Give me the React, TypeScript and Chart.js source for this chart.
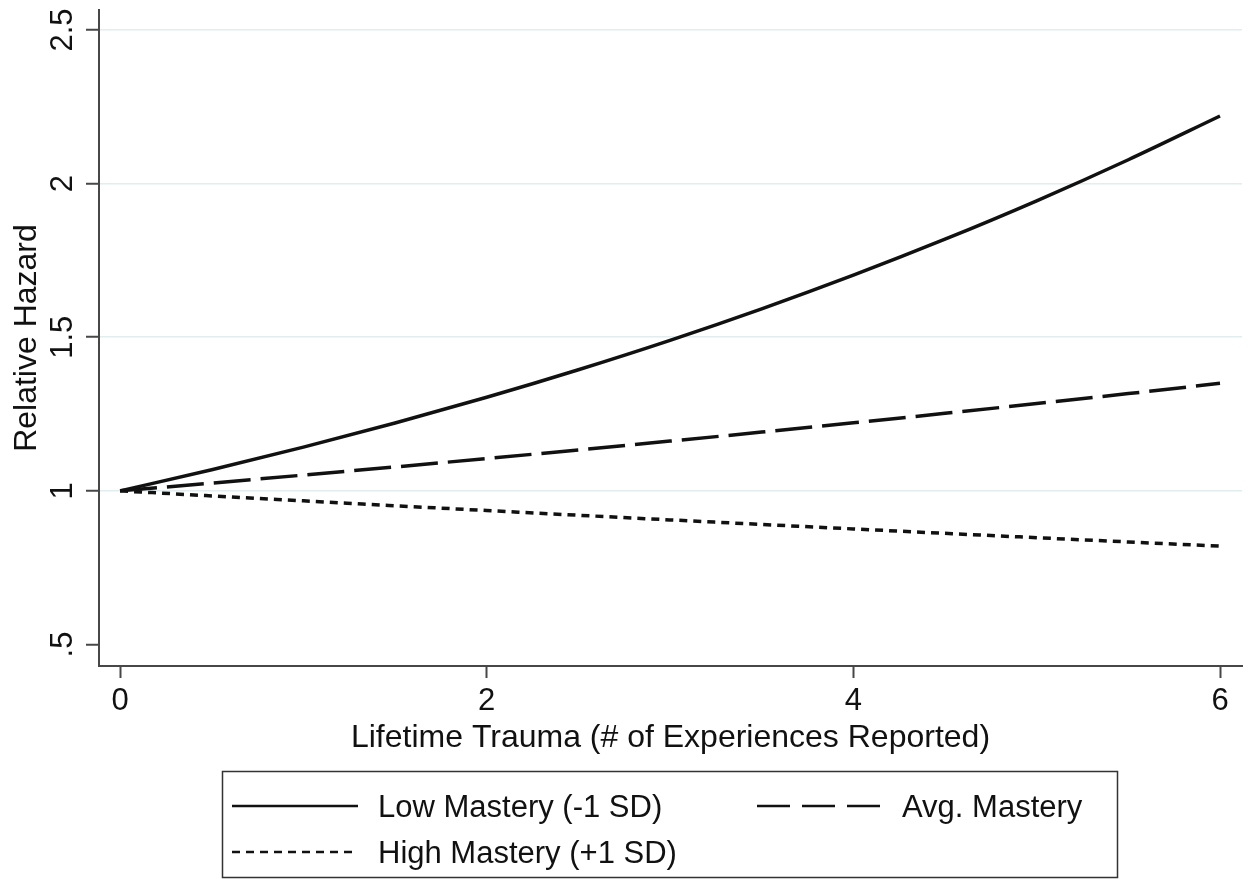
import React, { useEffect, useRef } from 'react';
import { Chart, registerables } from 'chart.js';

Chart.register(...registerables);

const xValues = [0, 0.5, 1, 1.5, 2, 2.5, 3, 3.5, 4, 4.5, 5, 5.5, 6];
const lowMastery = [1.0, 1.0687, 1.1422, 1.2207, 1.3046, 1.3943, 1.49, 1.5925, 1.702, 1.819, 1.944, 2.0777, 2.22];
const avgMastery = [1.0, 1.0253, 1.0513, 1.0779, 1.1052, 1.1331, 1.1619, 1.1912, 1.2214, 1.2523, 1.284, 1.3165, 1.35];
const highMastery = [1.0, 0.9836, 0.9675, 0.9516, 0.936, 0.9206, 0.9055, 0.8907, 0.8761, 0.8617, 0.8476, 0.8337, 0.82];

const xTicks = [0, 2, 4, 6];
const xTickLabels = ['0', '2', '4', '6'];
const yTicks = [0.5, 1, 1.5, 2, 2.5];
const yTickLabels = ['.5', '1', '1.5', '2', '2.5'];

const xTitle = 'Lifetime Trauma (# of Experiences Reported)';
const yTitle = 'Relative Hazard';
const seriesLabels = ['Low Mastery (-1 SD)', 'Avg. Mastery', 'High Mastery (+1 SD)'];

const FONT = '"Liberation Sans", Arial, Helvetica, sans-serif';
const INK = '#111111';
const AXIS = '#474747';

const textPlugin = {
  id: 'textPlugin',
  afterDraw(chart: any) {
    const ctx = chart.ctx as CanvasRenderingContext2D;
    const xs = chart.scales.x;
    const ys = chart.scales.y;
    const ca = chart.chartArea;
    ctx.save();
    ctx.fillStyle = INK;
    ctx.font = `31px ${FONT}`;

    // y tick labels, rotated
    yTicks.forEach((v, i) => {
      const py = ys.getPixelForValue(v);
      ctx.save();
      ctx.translate(72, py);
      ctx.rotate(-Math.PI / 2);
      ctx.textAlign = 'center';
      ctx.textBaseline = 'alphabetic';
      ctx.fillText(yTickLabels[i], 0, 0);
      ctx.restore();
    });

    // x tick labels
    xTicks.forEach((v, i) => {
      const px = xs.getPixelForValue(v);
      ctx.textAlign = 'center';
      ctx.textBaseline = 'alphabetic';
      ctx.fillText(xTickLabels[i], px, 710);
    });

    // axis titles
    ctx.font = `32px ${FONT}`;
    ctx.textAlign = 'center';
    ctx.fillText(xTitle, (ca.left + ca.right) / 2, 747);

    ctx.save();
    ctx.translate(36, (ca.top + ca.bottom) / 2);
    ctx.rotate(-Math.PI / 2);
    ctx.textAlign = 'center';
    ctx.textBaseline = 'alphabetic';
    ctx.fillText(yTitle, 0, 0);
    ctx.restore();

    // legend box
    ctx.strokeStyle = '#333333';
    ctx.lineWidth = 1.5;
    ctx.strokeRect(222.5, 771.5, 895, 106);

    const drawSample = (x0: number, x1: number, y: number, dash: number[]) => {
      ctx.save();
      ctx.strokeStyle = INK;
      ctx.lineWidth = 2.5;
      ctx.setLineDash(dash);
      ctx.beginPath();
      ctx.moveTo(x0, y);
      ctx.lineTo(x1, y);
      ctx.stroke();
      ctx.restore();
    };
    drawSample(232, 358, 806, []);
    drawSample(757, 881, 806, [33, 12]);
    drawSample(232, 358, 852, [8, 6]);

    ctx.font = `31px ${FONT}`;
    ctx.textAlign = 'left';
    ctx.textBaseline = 'alphabetic';
    ctx.fillText(seriesLabels[0], 378, 817);
    ctx.fillText(seriesLabels[1], 902, 817);
    ctx.fillText(seriesLabels[2], 378, 863);

    ctx.restore();
  },
};

export default function App() {
  const ref = useRef<HTMLCanvasElement | null>(null);

  useEffect(() => {
    if (!ref.current) return;
    const mk = (ys: number[]) => xValues.map((x, i) => ({ x, y: ys[i] }));
    const common = {
      borderColor: INK,
      borderWidth: 3.5,
      pointRadius: 0,
      fill: false,
      cubicInterpolationMode: 'monotone' as const,
    };
    const chart = new Chart(ref.current, {
      type: 'line',
      data: {
        datasets: [
          { ...common, label: seriesLabels[0], data: mk(lowMastery) },
          { ...common, label: seriesLabels[1], data: mk(avgMastery), borderDash: [37, 10] },
          { ...common, label: seriesLabels[2], data: mk(highMastery), borderDash: [8, 6] },
        ],
      },
      options: {
        responsive: false,
        animation: false,
        devicePixelRatio: 1,
        layout: { padding: { left: 0, right: 14, top: 10, bottom: 0 } },
        plugins: { legend: { display: false }, tooltip: { enabled: false }, title: { display: false } },
        scales: {
          x: {
            type: 'linear',
            min: -0.115,
            max: 6.12,
            afterBuildTicks: (s: any) => {
              s.ticks = xTicks.map((v) => ({ value: v }));
            },
            afterFit: (s: any) => {
              s.height = 213;
            },
            ticks: { display: false },
            grid: {
              display: true,
              drawOnChartArea: false,
              drawTicks: true,
              tickLength: 12,
              tickColor: AXIS,
              tickWidth: 2,
            },
            border: { display: true, color: AXIS, width: 2 },
          },
          y: {
            type: 'linear',
            min: 0.43,
            max: 2.565,
            afterBuildTicks: (s: any) => {
              s.ticks = yTicks.map((v) => ({ value: v }));
            },
            afterFit: (s: any) => {
              s.width = 99;
            },
            ticks: { display: false },
            grid: {
              display: true,
              drawOnChartArea: true,
              drawTicks: true,
              tickLength: 13,
              tickColor: AXIS,
              tickWidth: 2,
              lineWidth: 1.5,
              color: (c: any) => (c.tick && c.tick.value === 0.5 ? 'rgba(0,0,0,0)' : '#e2eded'),
            },
            border: { display: true, color: AXIS, width: 2 },
          },
        },
      },
      plugins: [textPlugin],
    });
    return () => chart.destroy();
  }, []);

  return (
    <div style={{ position: 'absolute', left: 0, top: 0, width: 1256, height: 879, background: '#fff' }}>
      <canvas ref={ref} width={1256} height={879} style={{ display: 'block', width: 1256, height: 879 }} />
    </div>
  );
}
